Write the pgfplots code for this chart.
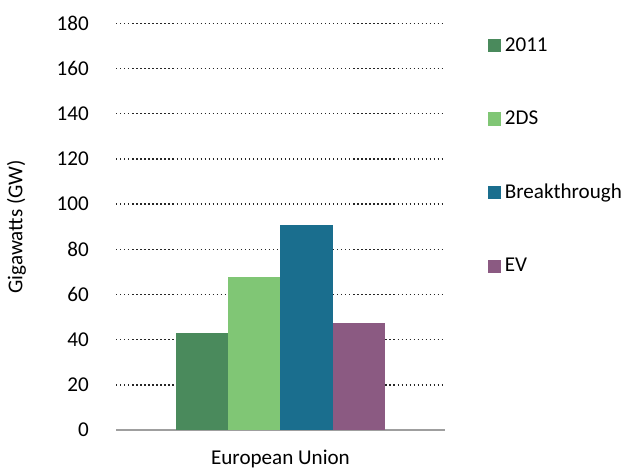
\documentclass[border={0pt -2pt 4.5pt 4.5pt}]{standalone}
\usepackage{fontspec}
\setmainfont{Carlito}
\usepackage{pgfplots}
\pgfplotsset{compat=1.18}
\definecolor{c2011}{HTML}{4A8A5C}
\definecolor{c2ds}{HTML}{80C675}
\definecolor{cbt}{HTML}{1A6E8E}
\definecolor{cev}{HTML}{8B5A82}
\begin{document}
\fontsize{10.5}{12}\selectfont
\begin{tikzpicture}
\begin{axis}[
  width=163.5pt, height=202.5pt, scale only axis,
  ybar=0pt, bar width=26pt,
  xmin=-0.5, xmax=0.5,
  ymin=0, ymax=180, ytick={0,20,...,180},
  xtick={0}, xticklabels={European Union},
  major tick length=0pt,
  axis x line=bottom, axis y line=left,
  y axis line style={draw=none},
  x axis line style={-, draw=gray!75, line width=0.8pt},
  ymajorgrids, grid style={black!85, line width=0.7pt, dash pattern=on 0.6pt off 1.4pt},
  ylabel={Gigawatts (GW)},
  ylabel style={yshift=8pt},
  yticklabel style={xshift=-10pt},
  xticklabel style={yshift=-6pt},
  tick label style={font=\fontsize{10.5}{12}\selectfont},
  label style={font=\fontsize{10.5}{12}\selectfont},
  /pgf/number format/assume math mode=true,
  legend style={draw=none, at={(1.13,0.975)}, anchor=north west,
    row sep=24pt, inner sep=0pt, font=\fontsize{10.5}{12}\selectfont,
    /tikz/every even column/.append style={column sep=2pt}},
  legend cell align=left,
  legend image code/.code={\fill[#1,draw=none] (0pt,-3pt) rectangle (6.5pt,3.5pt);},
]
\addplot[fill=c2011, draw=none] coordinates {(0,43)};
\addplot[fill=c2ds, draw=none] coordinates {(0,68)};
\addplot[fill=cbt, draw=none] coordinates {(0,91)};
\addplot[fill=cev, draw=none] coordinates {(0,47.5)};
\legend{2011,2DS,Breakthrough,EV}
\end{axis}
\end{tikzpicture}
\end{document}
